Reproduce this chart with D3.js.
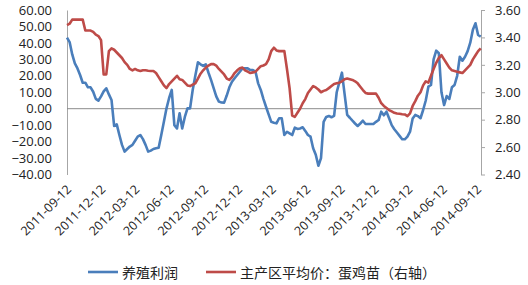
<!DOCTYPE html>
<html><head><meta charset="utf-8">
<script src="https://cdn.jsdelivr.net/npm/d3@7"></script>
<style>body{margin:0;background:#fff}svg{display:block}</style>
</head><body>
<svg id="c" width="528" height="285"></svg>
<script>
const dates = `2011-09-12 2011-09-19 2011-09-26 2011-10-03 2011-10-10 2011-10-17 2011-10-24 2011-10-31 2011-11-07 2011-11-14 2011-11-21 2011-11-28 2011-12-05 2011-12-12 2011-12-19 2011-12-26
2012-01-02 2012-01-09 2012-01-16 2012-01-23 2012-01-30 2012-02-06 2012-02-13 2012-02-20 2012-02-27 2012-03-05 2012-03-12 2012-03-19 2012-03-26 2012-04-02 2012-04-09 2012-04-16 2012-04-23 2012-04-30 2012-05-07 2012-05-14 2012-05-21 2012-05-28 2012-06-04 2012-06-11 2012-06-18 2012-06-25 2012-07-02 2012-07-09 2012-07-16 2012-07-23 2012-07-30 2012-08-06 2012-08-13 2012-08-20 2012-08-27 2012-09-03 2012-09-10 2012-09-17 2012-09-24 2012-10-01 2012-10-08 2012-10-15 2012-10-22 2012-10-29 2012-11-05 2012-11-12 2012-11-19 2012-11-26 2012-12-03 2012-12-10 2012-12-17 2012-12-24 2012-12-31
2013-01-07 2013-01-14 2013-01-21 2013-01-28 2013-02-04 2013-02-11 2013-02-18 2013-02-25 2013-03-04 2013-03-11 2013-03-18 2013-03-25 2013-04-01 2013-04-08 2013-04-15 2013-04-22 2013-04-29 2013-05-06 2013-05-13 2013-05-20 2013-05-27 2013-06-03 2013-06-10 2013-06-17 2013-06-24 2013-07-01 2013-07-08 2013-07-15 2013-07-22 2013-07-29 2013-08-05 2013-08-12 2013-08-19 2013-08-26 2013-09-02 2013-09-09 2013-09-16 2013-09-23 2013-09-30 2013-10-07 2013-10-14 2013-10-21 2013-10-28 2013-11-04 2013-11-11 2013-11-18 2013-11-25 2013-12-02 2013-12-09 2013-12-16 2013-12-23 2013-12-30
2014-01-06 2014-01-13 2014-01-20 2014-01-27 2014-02-03 2014-02-10 2014-02-17 2014-02-24 2014-03-03 2014-03-10 2014-03-17 2014-03-24 2014-03-31 2014-04-07 2014-04-14 2014-04-21 2014-04-28 2014-05-05 2014-05-12 2014-05-19 2014-05-26 2014-06-02 2014-06-09 2014-06-16 2014-06-23 2014-06-30 2014-07-07 2014-07-14 2014-07-21 2014-07-28 2014-08-04 2014-08-11 2014-08-18 2014-08-25 2014-09-01 2014-09-08 2014-09-15 2014-09-22`.split(/\s+/);

const profit = [
 43.2, 40.5, 33, 27.5, 24.5, 20.5, 15.8, 15.8, 13, 13,
 10.3, 6, 4.9, 7.5, 10.5, 12.4, 8.7, 5.3, -10.5, -9.5,
 -16, -22, -26.1, -24.5, -23, -22, -19.5, -17, -16, -18.5,
 -22, -26.1, -25.5, -24.5, -24, -23.7, -16, -8, 0.2, 6.5,
 11.4, -10, -12, -2.8, -12, -5, 0.2, 0.2, 11.4, 20,
 28.2, 27, 26, 27, 22, 17.5, 12.5, 7.5, 4.3, 3.8,
 3.7, 8, 13, 16.4, 18.5, 20.5, 22.5, 24.5, 24.5, 24.5,
 23.5, 23.5, 22.5, 15.4, 11.4, 6, 1.2, -3.5, -8, -8.5,
 -8.9, -5.8, -5.8, -16, -14, -15, -16, -11.5, -12.3, -12,
 -11.3, -13.5, -16, -17, -24, -28, -34.7, -30, -8, -5,
 -4.4, -5.2, -4.4, 10, 16, 21.9, 9, -3.8, -5.5, -7.3,
 -9, -10.5, -9, -7.3, -9.3, -9.3, -9.3, -9.3, -8, -6.9,
 -1.8, -4, -1.8, -5.8, -10, -12.5, -14.5, -16.5, -18.6, -18.6,
 -17, -14, -6, -3.8, -4.5, -5.8, -0.8, 5, 13.4, 14.4,
 30, 35.3, 33.7, 10, 2.2, 7.7, 5.9, 13, 14.4, 20,
 31.6, 29.2, 31.6, 35, 40.1, 48, 51.9, 44.8, 43.8
];

const price = [
 3.49, 3.50, 3.53, 3.53, 3.53, 3.53, 3.53, 3.45, 3.45, 3.45,
 3.44, 3.42, 3.41, 3.38, 3.13, 3.13, 3.30, 3.32, 3.31, 3.29,
 3.27, 3.25, 3.22, 3.20, 3.17, 3.16, 3.17, 3.16, 3.155, 3.16,
 3.16, 3.157, 3.155, 3.155, 3.14, 3.11, 3.08, 3.05, 3.03, 3.06,
 3.08, 3.10, 3.12, 3.095, 3.09, 3.07, 3.05, 3.045, 3.055, 3.065,
 3.10, 3.135, 3.16, 3.18, 3.195, 3.206, 3.205, 3.194, 3.17, 3.15,
 3.13, 3.10, 3.09, 3.11, 3.14, 3.16, 3.175, 3.18, 3.16, 3.15,
 3.14, 3.145, 3.15, 3.17, 3.19, 3.195, 3.205, 3.24, 3.30, 3.325,
 3.305, 3.30, 3.30, 3.30, 3.17, 3.03, 2.83, 2.82, 2.85, 2.88,
 2.92, 2.95, 2.995, 3.02, 3.045, 3.035, 3.02, 3.00, 3.01, 3.016,
 3.03, 3.045, 3.06, 3.065, 3.07, 3.08, 3.095, 3.10, 3.095, 3.09,
 3.08, 3.065, 3.04, 3.016, 2.995, 2.99, 2.99, 2.99, 2.99, 2.96,
 2.92, 2.90, 2.885, 2.87, 2.86, 2.85, 2.845, 2.843, 2.84, 2.838,
 2.826, 2.846, 2.90, 2.935, 2.975, 3.00, 3.05, 3.08, 3.07, 3.12,
 3.17, 3.215, 3.25, 3.27, 3.24, 3.21, 3.18, 3.16, 3.155, 3.15,
 3.145, 3.14, 3.16, 3.18, 3.20, 3.24, 3.27, 3.30, 3.32
];

const xTickLabels = ["2011-09-12","2011-12-12","2012-03-12","2012-06-12","2012-09-12","2012-12-12","2013-03-12","2013-06-12","2013-09-12","2013-12-12","2014-03-12","2014-06-12","2014-09-12"];
const leftTicks = [60,50,40,30,20,10,0,-10,-20,-30,-40];
const rightTicks = [3.6,3.4,3.2,3.0,2.8,2.6,2.4];
const seriesNames = ["养殖利润","主产区平均价：蛋鸡苗（右轴）"];
const colors = ["#4A7EBB","#BE4B48"];

const parse = d3.timeParse("%Y-%m-%d");
const svg = d3.select("#c");
const font = "'Open Sans', 'Noto Sans', sans-serif";
const cjk = "'Noto Sans CJK SC', sans-serif";

const x = d3.scaleTime().domain([parse("2011-09-12"), parse("2014-09-12")]).range([67, 477]);
const yL = d3.scaleLinear().domain([-40, 60]).range([174.5, 10]);
const yR = d3.scaleLinear().domain([2.4, 3.6]).range([174.5, 10]);

// left axis
const gL = svg.append("g").attr("transform","translate(67,0)")
  .call(d3.axisLeft(yL).tickValues(leftTicks).tickSize(0).tickPadding(15).tickFormat(d3.format(".2f")));
gL.select(".domain").attr("stroke","#a6a6a6");
gL.selectAll("text").attr("font-family",font).attr("font-size",13).attr("fill","#222");

// right axis
const gR = svg.append("g").attr("transform","translate(481,0)")
  .call(d3.axisRight(yR).tickValues(rightTicks).tickSize(4).tickSizeOuter(0).tickPadding(10).tickFormat(d3.format(".2f")));
gR.select(".domain").attr("stroke","#a6a6a6");
gR.selectAll(".tick line").attr("stroke","#a6a6a6");
gR.selectAll("text").attr("font-family",font).attr("font-size",13).attr("fill","#222");

// zero line
svg.append("line").attr("x1",67).attr("x2",481).attr("y1",yL(0)).attr("y2",yL(0))
  .attr("stroke","#8c8c8c").attr("stroke-width",1);

// x labels
svg.append("g").selectAll("text").data(xTickLabels).join("text")
  .attr("transform", d => `translate(${x(parse(d))+2},187) rotate(-45)`)
  .attr("text-anchor","end")
  .attr("dominant-baseline","central")
  .attr("font-family",font).attr("font-size",12.5).attr("fill","#222")
  .text(d => d);

const pts = dates.map((d,i) => ({date: parse(d), p: profit[i], q: price[i]}));

svg.append("path").datum(pts)
  .attr("d", d3.line().x(d => x(d.date)).y(d => yL(d.p)))
  .attr("fill","none").attr("stroke",colors[0]).attr("stroke-width",2.6).attr("stroke-linejoin","round");
svg.append("path").datum(pts)
  .attr("d", d3.line().x(d => x(d.date)).y(d => yR(d.q)))
  .attr("fill","none").attr("stroke",colors[1]).attr("stroke-width",2.6).attr("stroke-linejoin","round");

// legend
const legX = [88, 206];
const lg = svg.append("g").selectAll("g").data(seriesNames).join("g")
  .attr("transform",(d,i)=>`translate(${legX[i]},272)`);
lg.append("line").attr("x1",0).attr("x2",30).attr("y1",0).attr("y2",0)
  .attr("stroke",(d,i)=>colors[i]).attr("stroke-width",2.6);
lg.append("text").attr("x",34).attr("y",0).attr("dominant-baseline","central")
  .attr("font-family",cjk).attr("font-size",14).attr("fill","#222").text(d=>d);
</script>
</body></html>
